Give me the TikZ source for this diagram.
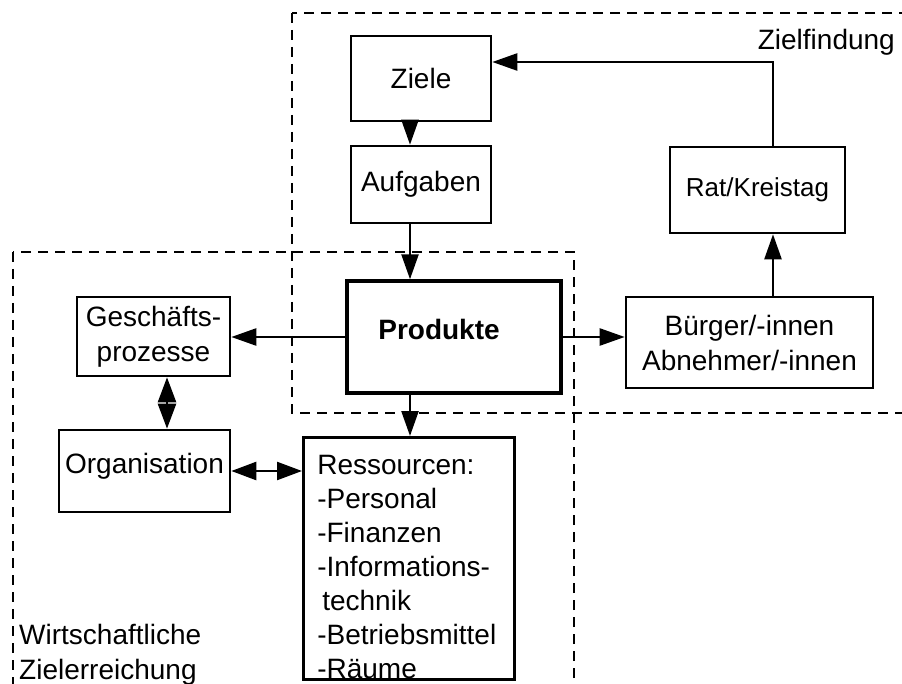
\documentclass[tikz,border=0pt]{standalone}
\usepackage{fontspec}
\setmainfont{Liberation Sans}
\usetikzlibrary{arrows.meta}

\tikzset{
  box/.style={draw, line width=2.6pt, inner sep=0pt, align=center,
    font=\fontsize{28}{35}\selectfont},
  zone/.style={draw, line width=1.8pt, dash pattern=on 10pt off 7pt},
  flow/.style={line width=2.4pt, -{Triangle[length=25pt,width=17pt]}},
  both/.style={line width=2.4pt,
    {Triangle[length=25pt,width=18pt]}-{Triangle[length=25pt,width=18pt]}},
  zonelabel/.style={inner sep=0pt, align=left, font=\fontsize{28}{35}\selectfont}
}

\begin{document}
\begin{tikzpicture}[x=1pt,y=-1pt]
  \useasboundingbox (0,0) rectangle (902,684);
  \clip (0,0) rectangle (902,684);

  % the two overlapping areas
  \draw[zone] (292,13) rectangle (940,413);
  \draw[zone] (13,252) rectangle (574,720);
  \node[zonelabel, anchor=base east] (zf) at (895,50) {Zielfindung};
  \node[zonelabel, anchor=north west] (wz) at (19,624)
    {Wirtschaftliche\\Zielerreichung};

  % boxes
  \node[box, minimum width=140pt, minimum height=85pt] (ziele) at (421,78.5) {Ziele};
  \node[box, minimum width=140pt, minimum height=77pt] (aufgaben) at (421,184.5) {Aufgaben};
  \node[box, line width=3.4pt, minimum width=214pt, minimum height=112pt,
        font=\fontsize{28}{35}\selectfont\bfseries] (produkte) at (454,337)
        {Produkte\hspace*{30pt}\rule[-16pt]{0pt}{1pt}};
  \node[box, minimum width=175pt, minimum height=86pt,
        font=\fontsize{26}{32}\selectfont] (rat) at (757.5,190) {Rat/Kreistag};
  \node[box, minimum width=247pt, minimum height=91pt] (buerger) at (749.5,342.5)
        {Bürger/-innen\\Abnehmer/-innen};
  \node[box, minimum width=153pt, minimum height=79pt] (gesch) at (153.5,336.5)
        {Geschäfts-\\prozesse};
  \node[box, minimum width=171pt, minimum height=82pt] (org) at (144.5,471)
        {Organisation\rule[-16pt]{0pt}{1pt}};
  \node[box, anchor=north west, minimum width=211pt, minimum height=242pt,
        text width=183pt, inner xsep=14pt, align=left,
        font=\fontsize{28}{34}\selectfont] (ress) at (302,436)
        {\rule{0pt}{37pt}Ressourcen:\\-Personal\\-Finanzen\\-Informations-\\
         \hspace*{5pt}technik\\-Betriebsmittel\\-Räume};

  % connector columns
  \coordinate (colA) at (410,0);
  \coordinate (colR) at (773,0);
  \coordinate (colG) at (167,0);
  \coordinate (topline) at (0,62);

  % connectors
  \draw[flow] (ziele.south -| colA) -- (aufgaben.north -| colA);
  \draw[flow] (aufgaben.south -| colA) -- (produkte.north -| colA);
  \draw[flow] (produkte.south -| colA) -- (ress.north -| colA);
  \draw[flow] (produkte.west) -- (gesch.east |- produkte.west);
  \draw[flow] (produkte.east) -- (buerger.west |- produkte.east);
  \draw[flow] (buerger.north -| colR) -- (rat.south -| colR);
  \draw[flow] (rat.north -| colR) |- (topline -| ziele.east);
  \draw[both] (gesch.south -| colG) -- (org.north -| colG);
  \draw[both] (org.east) -- (ress.west |- org.east);
\end{tikzpicture}
\end{document}
